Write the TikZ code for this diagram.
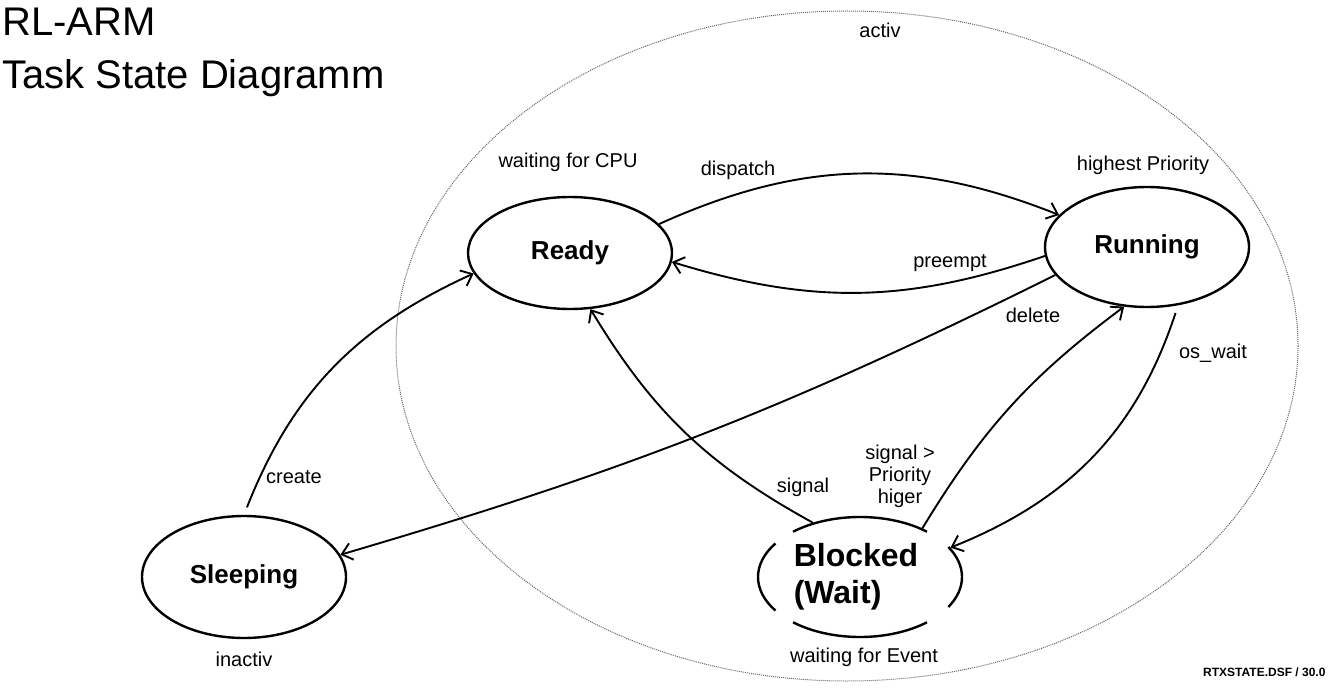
\documentclass[tikz,border=0pt]{standalone}
\usepackage{fontspec}
\setmainfont{Liberation Sans}
\usetikzlibrary{shapes.geometric,arrows.meta}
\begin{document}
\begin{tikzpicture}[x=1pt,y=1pt,
  zustand/.style={ellipse,draw,line width=2.4pt,minimum width=204pt,inner sep=0pt,font=\fontsize{26}{30}\selectfont\bfseries},
  pfeil/.style={line width=1.9pt,-{Straight Barb[length=10pt,width=17pt]}},
  schrift/.style={inner sep=0pt,font=\fontsize{20}{22}\selectfont}]
\useasboundingbox (0,0) rectangle (1337,-700);
% Titel
\node[anchor=base west,inner sep=0pt,font=\fontsize{40}{48}\selectfont](titel1)at(2,-36){RL-ARM};
\node[anchor=base west,inner sep=0pt,font=\fontsize{40}{48}\selectfont](titel2)at(2,-89){Task State Diagramm};
% Bereich activ
\draw[densely dotted,line width=1pt,black!60](847,-346) ellipse (451pt and 335pt);
\node[schrift](aktiv)at(880,-30){activ};

% Zustaende
\node[zustand,minimum height=112pt](ready)at(570,-253){Ready};
\node[zustand,minimum height=120pt](running)at(1147,-247){Running};
\node[zustand,minimum height=122pt](sleeping)at(244,-577){Sleeping};
\node[zustand,draw=none,minimum height=120pt,align=left,font=\fontsize{32}{37}\selectfont\bfseries](blocked)at(860,-577){\hspace*{-8pt}Blocked\\\hspace*{-8pt}(Wait)};
\foreach \a/\b in {49/131,146/214,229/311,330/390}
  \draw[line width=2.4pt]([shift={(\a:102pt and 60pt)}]blocked.center) arc[start angle=\a,end angle=\b,x radius=102pt,y radius=60pt];

% Beschriftung
\node[schrift](cpu)at(568,-162){waiting for CPU};
\node[schrift](prio)at(1143,-165){highest Priority};
\node[schrift](inaktiv)at(244,-659){inactiv};
\node[schrift](event)at(864,-657){waiting for Event};

% Pfeile
\draw[pfeil](ready.18) to[bend left=23] (running.160);
\node[schrift](dispatch)at(738,-170){dispatch};
\draw[pfeil](running.185) to[bend left=18] (ready.355);
\node[schrift](preempt)at(950,-263){preempt};
\draw[pfeil](running.197) to[bend left=5] (sleeping.13);
\node[schrift](delete)at(1033,-315){delete};
\draw[pfeil,shorten <=8pt](sleeping.90) to[bend left=22] (ready.192);
\node[schrift](create)at(294,-477){create};
\draw[pfeil](blocked.131) to[bend left=15] (ready.290);
\node[schrift](signal)at(803,-487){signal};
\draw[pfeil](blocked.38) to[bend left=11] (running.249);
\node[schrift,align=center](signal_prio)at(900,-476){signal >\\Priority\\higer};
\draw[pfeil,shorten <=8pt](running.298) to[bend left=25] (blocked.18);
\node[schrift](oswait)at(1213,-353){os\_wait};

% Datei
\node[anchor=west,inner sep=0pt,font=\fontsize{12}{14}\selectfont\bfseries](datei)at(1203,-672){RTXSTATE.DSF / 30.0};
\end{tikzpicture}
\end{document}
